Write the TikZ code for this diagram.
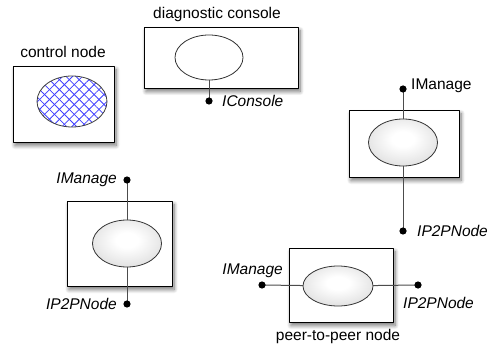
\documentclass[tikz,border=0pt]{standalone}
\usepackage{fontspec}
\setmainfont{Liberation Sans}
\usetikzlibrary{shapes.geometric,shadows.blur,patterns.meta}
\pgfdeclareradialshading{bulb}{\pgfpoint{0bp}{4bp}}{color(0bp)=(white); color(8bp)=(white); color(50bp)=(black!24); color(100bp)=(black!24)}
\tikzset{
  unit/.style={draw=black, line width=0.9pt, fill=white,
    blur shadow={shadow xshift=2pt, shadow yshift=-3.5pt, shadow blur radius=4pt, shadow blur steps=8, shadow opacity=55}},
  core/.style={ellipse, draw=black!80, line width=0.8pt, shading=bulb,
    minimum width=69pt, minimum height=47pt},
  hatched/.style={ellipse, draw=black!75, line width=0.8pt, fill=white, minimum width=70pt, minimum height=51pt,
    preaction={fill=white},
    preaction={pattern={Lines[angle=45,distance=7pt,line width=0.8pt]}, pattern color=blue!75},
    pattern={Lines[angle=-45,distance=7pt,line width=0.8pt]}, pattern color=blue!75},
  wire/.style={draw=black!70, line width=1pt},
  lbl/.style={font=\fontsize{15.5}{18}\selectfont, inner sep=1pt},
  ilbl/.style={lbl, font=\fontsize{15.5}{18}\selectfont\itshape}
}
\begin{document}
\begin{tikzpicture}[x=1pt, y=-1pt, line join=round, line cap=round]
	\useasboundingbox (0,0) rectangle (492,347);
	% boxes
	\node[unit, minimum width=101pt, minimum height=76pt] (b1) at (63.5,104) {};
	\node[unit, minimum width=154pt, minimum height=61pt] (b2) at (221,57.5) {};
	\node[unit, minimum width=110pt, minimum height=67pt] (b3) at (404,143.5) {};
	\node[unit, minimum width=105pt, minimum height=85pt] (b4) at (119.5,243.5) {};
	\node[unit, minimum width=104pt, minimum height=74pt] (b5) at (341,285) {};
	% cores
	\node[hatched] (e1) at (72,101.5) {};
	\node[ellipse, draw=black!80, line width=0.8pt, fill=white, minimum width=68pt, minimum height=45pt] (e2) at (209,57.5) {};
	\node[core] (e3) at (403,142.5) {};
	\node[core] (e4) at (127,243.5) {};
	\node[core, minimum width=70pt, minimum height=40pt] (e5) at (338,286) {};
	% ports
	\path
	(209,101) coordinate (p2)
	(403,89) coordinate (p3a)
	(403,231) coordinate (p3b)
	(127,180) coordinate (p4a)
	(127,304) coordinate (p4b)
	(262,285) coordinate (p5a)
	(418,285) coordinate (p5b);
	\draw[wire] (e2) -- (p2);
	\draw[wire] (e3) -- (p3a);
	\draw[wire] (e3) -- (p3b);
	\draw[wire] (e4) -- (p4a);
	\draw[wire] (e4) -- (p4b);
	\draw[wire] (e5) -- (p5a);
	\draw[wire] (e5) -- (p5b);
	\foreach \i in {p2,p3a,p3b,p4a,p4b,p5a,p5b}{\fill[black](\i) circle (3.6pt);}
	% labels
	\node[lbl] (t1) at (63,52) {control node};
	\node[lbl] (t2) at (217,14) {diagnostic console};
	\node[ilbl, anchor=west] (t3) at (221,101) {IConsole};
	\node[lbl, anchor=west] (t4) at (410,86) {IManage};
	\node[ilbl, anchor=west] (t5) at (416,231) {IP2PNode};
	\node[ilbl, anchor=east] (t6) at (118,180) {IManage};
	\node[ilbl, anchor=east] (t7) at (118,304) {IP2PNode};
	\node[ilbl, anchor=east] (t8) at (284,271) {IManage};
	\node[ilbl, anchor=west] (t9) at (402,303) {IP2PNode};
	\node[lbl] (t10) at (338,336) {peer-to-peer node};
\end{tikzpicture}
\end{document}
